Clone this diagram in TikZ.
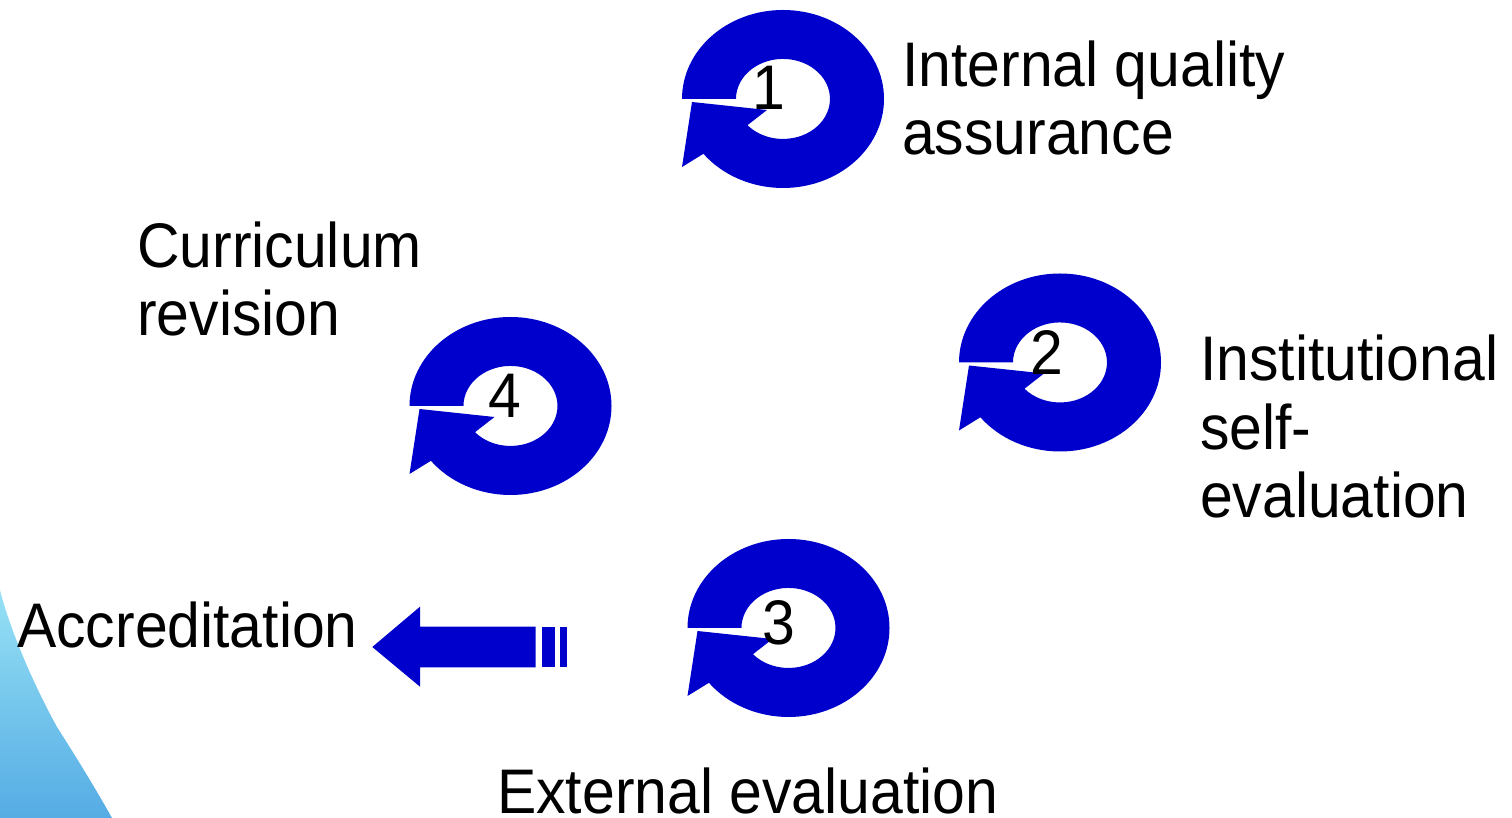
\documentclass[tikz,border=0pt]{standalone}
\usepackage{fontspec}
\setmainfont{Liberation Sans}[FakeStretch=0.935]
\usepackage{tikz}

\definecolor{ringblue}{RGB}{0,0,204}
\definecolor{swooshtop}{RGB}{150,225,245}
\definecolor{swooshbot}{RGB}{85,172,228}

\begin{document}
\begin{tikzpicture}[x=1pt,y=1pt,
	lbl/.style={anchor=base west,align=left,inner sep=0pt,font=\fontsize{63}{68.5}\selectfont},
	digit/.style={anchor=base,inner sep=0pt,font=\fontsize{63}{68.5}\selectfont},
	pics/cyclearrow/.style={code={
		\fill[ringblue] (-101,0) arc[start angle=180,end angle=-142,x radius=101pt,y radius=89pt]
		-- (-101,-68) -- (-91,-3) -- (-16,-11) -- (-35.5,-26.2)
		arc[start angle=-139,end angle=180,x radius=47pt,y radius=40pt] -- cycle;
	}}]
	\useasboundingbox (0,0) rectangle (1512,818);
	
	%BACKGROUND
	\shade[top color=swooshtop,bottom color=swooshbot] (0,228) .. controls (8,195) and (30,140) .. (57,91)
	.. controls (80,55) and (98,25) .. (112,0) -- (0,0) -- cycle;
	
	%RINGS
	\foreach \n/\x/\y/\dx/\dy in {1/783/719/-14/-11, 2/1060/455.5/-13/-12.5, 3/788.5/190/-10/-17, 4/510.5/412/-5.5/-12}{
		\pic at (\x,\y) {cyclearrow};
		\node[digit] (n\n) at (\x+\dx,\y+\dy) {\n};
	}
	
	%LABELS (anchored at the baseline of the last line)
	\node[lbl] (iqa) at (902,663) {Internal quality\\assurance};
	\node[lbl] (cur) at (137,482) {Curriculum\\revision};
	\node[lbl] (ise) at (1200,300) {Institutional\\self-\\evaluation};
	\node[lbl] (acc) at (17,170) {Accreditation};
	\node[lbl] (ext) at (497,4) {External evaluation};
	
	%STRIPED ARROW
	\fill[ringblue] (372.3,171) -- (420,211.3) -- (420,191.3) -- (535.7,191.3)
	-- (535.7,150.7) -- (420,150.7) -- (420,131.3) -- cycle;
	\fill[ringblue] (542.3,191.3) rectangle (555,150.7);
	\fill[ringblue] (560,191.3) rectangle (566.7,150.7);
\end{tikzpicture}
\end{document}
